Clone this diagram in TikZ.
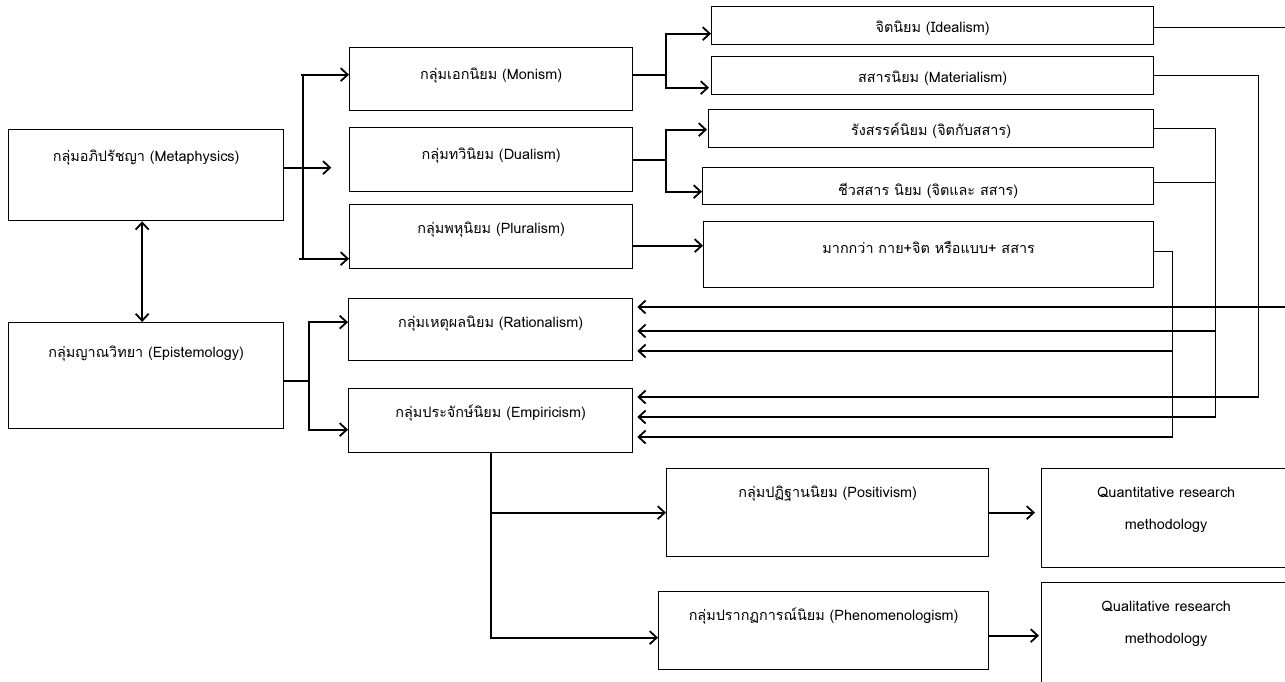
\documentclass[tikz,border=0pt]{standalone}
\usepackage{fontspec}
\setmainfont[Script=Thai]{Loma}
\usetikzlibrary{arrows.meta,calc}

\begin{document}
\begin{tikzpicture}[
    x=1pt, y=-1pt,
    font=\fontsize{14.4}{17}\selectfont,
    >={Straight Barb[length=7pt,width=13pt]},
    box/.style={
      draw,
      line width=1.3pt,
      anchor=north west,
      inner sep=0pt
    },
    lbl/.style={
      anchor=north,
      inner sep=0pt,
      text height=11pt,
      text depth=4pt,
      yshift=-21pt
    },
    slbl/.style={lbl, yshift=6pt},
    qlbl/.style={
      anchor=base,
      inner sep=0pt,
      align=center,
      font=\fontsize{14.4}{32}\selectfont,
      yshift=-61pt
    },
    arrow/.style={->, line width=1.8pt},
    rarrow/.style={-{Straight Barb[length=7pt,width=13pt,line width=1.8pt]}, line width=1.3pt},
    wire/.style={line width=1.3pt}
  ]
    \useasboundingbox (0,0) rectangle (1285,681);
    \fill[white] (0,0) rectangle (1285,681);

    % left column
    \node[box, minimum width=275pt, minimum height=91pt,
      label={[lbl]north:กลุ่มอภิปรัชญา (Metaphysics)}] (meta) at (8,129) {};
    \node[box, minimum width=275pt, minimum height=106pt,
      label={[lbl, yshift=-3pt]north:กลุ่มญาณวิทยา (Epistemology)}] (epist) at (8,322) {};

    % second column
    \node[box, minimum width=283pt, minimum height=63pt,
      label={[lbl]north:กลุ่มเอกนิยม (Monism)}] (mono) at (349,47) {};
    \node[box, minimum width=283pt, minimum height=64pt,
      label={[lbl]north:กลุ่มทวินิยม (Dualism)}] (dual) at (349,127) {};
    \node[box, minimum width=283pt, minimum height=64pt,
      label={[lbl, yshift=3pt]north:กลุ่มพหุนิยม (Pluralism)}] (plur) at (349,204) {};
    \node[box, minimum width=284pt, minimum height=62pt,
      label={[lbl, yshift=3pt]north:กลุ่มเหตุผลนิยม (Rationalism)}] (rat) at (348,298) {};
    \node[box, minimum width=284pt, minimum height=64pt,
      label={[lbl, yshift=3pt]north:กลุ่มประจักษ์นิยม (Empiricism)}] (emp) at (348,388) {};

    % third column
    \node[box, minimum width=442pt, minimum height=38pt,
      label={[slbl]north:จิตนิยม (Idealism)}] (ideal) at (711,6) {};
    \node[box, minimum width=442pt, minimum height=38pt,
      label={[slbl]north:สสารนิยม (Materialism)}] (mat) at (711,56) {};
    \node[box, minimum width=445pt, minimum height=38pt,
      label={[slbl]north:รังสรรค์นิยม (จิตกับสสาร)}] (rang) at (708,109) {};
    \node[box, minimum width=451pt, minimum height=37pt,
      label={[slbl, yshift=-2pt]north:ชีวสสาร นิยม (จิตและ สสาร)}] (chiw) at (702,167) {};
    \node[box, minimum width=450pt, minimum height=66pt,
      label={[lbl]north:มากกว่า กาย+จิต หรือแบบ+ สสาร}] (mak) at (703,221) {};

    % lower row
    \node[box, minimum width=322pt, minimum height=88pt,
      label={[lbl, yshift=3pt]north:กลุ่มปฏิฐานนิยม (Positivism)}] (pos) at (666,468) {};
    \node[box, minimum width=330pt, minimum height=78pt,
      label={[lbl, yshift=3pt]north:กลุ่มปรากฏการณ์นิยม (Phenomenologism)}] (phen) at (658,591) {};
    \node[box, minimum width=249pt, minimum height=99pt,
      label={[qlbl]north:Quantitative research\\methodology}] (quan) at (1041,468) {};
    \node[box, minimum width=249pt, minimum height=108pt,
      label={[qlbl]north:Qualitative research\\methodology}] (qual) at (1041,582) {};

    % metaphysics <-> epistemology
    \draw[<->, line width=1.8pt] ($(meta.south)+(-4,0)$) -- ($(epist.north)+(-4,0)$);

    % metaphysics branch
    \coordinate (mtip) at ($(meta.east)+(47,-7.5)$);
    \draw[arrow] ($(meta.east)+(0,-7.5)$) -- (mtip);
    \draw[arrow] ($(mono.west)+(-48,-4.5)$) coordinate (mtop) -- (mtop -| mono.west);
    \draw[arrow] ($(plur.west)+(-50,22)$) coordinate (mbot) -- (mbot -| plur.west);
    \draw[wire] ($(mtop)+(2,0)$) -- ($(mbot)+(4,0)$);

    % epistemology branch
    \draw[arrow] ($(epist.east)+(0,5)$) -| ($(rat.west)+(-39,-7.5)$) -- ($(rat.west)+(0,-7.5)$);
    \draw[arrow] ($(epist.east)+(0,5)$) -| ($(emp.west)+(-39,9)$) -- ($(emp.west)+(0,9)$);

    % second to third column
    \draw[arrow] ($(mono.east)+(0,-4.5)$) -| ($(ideal.west)+(-45,8)$) -- ($(ideal.west)+(0,8)$);
    \draw[arrow] ($(mono.east)+(0,-4.5)$) -| ($(mat.west)+(-45,12)$) -- ($(mat.west)+(-2,12)$);
    \draw[arrow] (dual.east) -| ($(rang.west)+(-42,1)$) -- ($(rang.west)+(-1,1)$);
    \draw[arrow] (dual.east) -| ($(chiw.west)+(-36,5.5)$) -- ($(chiw.west)+(0,5.5)$);
    \draw[arrow] ($(plur.east)+(0,9)$) -- ($(plur.east -| mak.west)+(0,9)$);

    % feedback lines on the right
    \coordinate (trI) at ($(rat.north east)+(660,9)$);
    \coordinate (trM) at ($(emp.north east)+(625,9)$);
    \coordinate (trR) at ($(emp.north east)+(582,29)$);
    \coordinate (trP) at ($(emp.north east)+(539,49)$);
    \draw[rarrow] ($(ideal.east)+(0,2)$) -| (trI) -- ($(trI -| rat.east)+(4,0)$);
    \draw[rarrow] (mat.east) -| (trM) -- ($(trM -| emp.east)+(4,0)$);
    \draw[rarrow] (rang.east) -| (trR) -- ($(trR -| emp.east)+(4,0)$);
    \draw[wire] ($(chiw.east)+(0,-3.5)$) -- ($(chiw.east -| trR)+(0,-3.5)$);
    \draw[rarrow] ($(trR |- rat.north east)+(0,33)$) -- ($(rat.north east)+(4,33)$);
    \draw[rarrow] ($(mak.east)+(0,-3)$) -| (trP) -- ($(trP -| emp.east)+(4,0)$);
    \draw[rarrow] ($(trP |- rat.north east)+(0,53)$) -- ($(rat.north east)+(4,53)$);

    % empiricism branch
    \draw[arrow] (emp.south) |- (pos.west);
    \draw[arrow] (emp.south) |- ($(phen.west)+(0,7)$);
    \draw[arrow] (pos.east) -- ($(pos.east -| quan.west)+(-6,0)$);
    \draw[arrow] ($(phen.east)+(0,5)$) -- ($(phen.east -| qual.west)+(-2,5)$);
  \end{tikzpicture}
\end{document}
